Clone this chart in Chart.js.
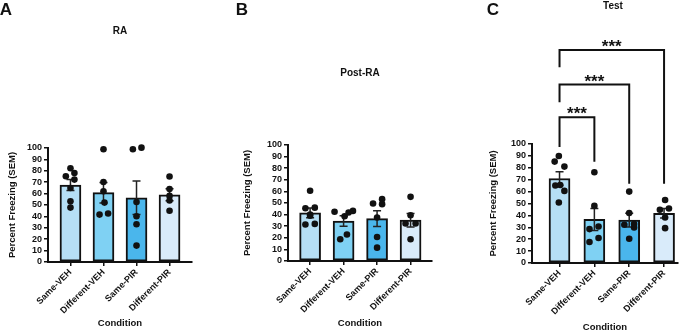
<!DOCTYPE html>
<html>
<head>
<meta charset="utf-8">
<script src="https://cdn.jsdelivr.net/npm/chart.js@4.4.1/dist/chart.umd.min.js"></script>
<style>
    body { margin: 0; background: #fff; }
    #wrap { position: relative; width: 690px; height: 336px; font-family: 'Liberation Sans', Arial, sans-serif; font-weight: bold; color: #111; }
    .panel { position: absolute; top: 0; width: 230px; height: 336px; }
    .lbl { position: absolute; transform: translate(-50%, -50%); white-space: nowrap; line-height: 1; }
    .letter { font-size: 17px; }
    .title { font-size: 10px; }
</style>
</head>
<body>
<div id="wrap">
    <div class="panel" style="left:0"><canvas id="chartRA" width="230" height="336"></canvas></div>
    <div class="panel" style="left:230px"><canvas id="chartPostRA" width="230" height="336"></canvas></div>
    <div class="panel" style="left:460px"><canvas id="chartTest" width="230" height="336"></canvas></div>

    <div class="lbl letter" style="left:6px;top:9px">A</div>
    <div class="lbl letter" style="left:242px;top:9px">B</div>
    <div class="lbl letter" style="left:493px;top:9px">C</div>
    <div class="lbl title" style="left:120px;top:31px">RA</div>
    <div class="lbl title" style="left:360px;top:73px">Post-RA</div>
    <div class="lbl title" style="left:613px;top:6px">Test</div>
</div>

<script>
const conditions = ['Same-VEH', 'Different-VEH', 'Same-PIR', 'Different-PIR'];
const barColors = ['#b6dff5', '#7fd1f3', '#4ab6ec', '#d9ebfa'];

// RA
const raMeans = [67.5, 60.8, 56.3, 59.0];
const raSem = [4.8, 9.0, 14.7, 5.3];
const raPoints = [
    [82.2, 75.2, 78.1, 72.3, 64.9, 53.2, 47.7],
    [98.9, 70.2, 62.0, 52.1, 41.6, 42.5],
    [98.9, 100.3, 52.6, 40.1, 33.1, 14.4],
    [75.0, 64.0, 58.0, 54.0, 45.0]
];
const raJitter = [
    [0, -0.14, 0.12, 0.12, 0, 0, 0],
    [0, 0, 0, 0.03, -0.12, 0.14],
    [-0.11, 0.15, 0, 0, 0, 0],
    [0, 0, 0, 0, 0]
];

// Post-RA
const postMeans = [41.5, 34.5, 36.5, 35.2];
const postSem = [4.2, 4.6, 6.8, 5.8];
const postPoints = [
    [60.5, 45.5, 46.0, 40.0, 39.0, 31.5, 32.0],
    [42.4, 38.6, 41.8, 43.2, 18.7, 22.8],
    [49.6, 53.3, 49.0, 37.5, 20.7, 11.5],
    [55.3, 39.5, 32.3, 32.3, 18.7]
];
const postJitter = [
    [0, -0.14, 0.14, 0, 0, -0.14, 0.14],
    [-0.27, 0.03, 0.15, 0.28, -0.1, 0.1],
    [-0.12, 0.15, 0.15, 0, 0, 0],
    [0, 0, -0.15, 0.15, 0]
];

// Test
const testMeans = [71.0, 36.6, 36.1, 41.8];
const testSem = [5.6, 9.3, 5.8, 4.0];
const testPoints = [
    [89.9, 85.2, 81.0, 65.1, 65.6, 60.6, 50.8],
    [76.3, 48.0, 28.5, 30.7, 17.6, 21.0],
    [60.0, 42.0, 32.1, 32.7, 29.8, 20.4],
    [53.0, 44.7, 45.8, 38.2, 29.3]
];
const testJitter = [
    [-0.02, -0.14, 0.14, -0.12, 0.02, 0.14, -0.02],
    [0, 0, -0.14, 0.12, -0.14, 0.12],
    [0, 0, -0.14, 0.14, 0.14, 0],
    [0.03, -0.12, 0.14, 0.03, 0.03]
];

// significance brackets on Test: from Same-VEH (1) to group index
const bracketTo = [2, 3, 4];
const bracketTop = [122.5, 150, 179];
const bracketLeftEnd = [97.5, 135, 164.5];
const bracketRightEnd = [85, 66.5, 66.5];
const bracketText = ['***', '***', '***'];

const ink = '#111';
const tickFont = { family: "'Liberation Sans', Arial, sans-serif", size: 9, weight: 'bold' };
const titleFont = { family: "'Liberation Sans', Arial, sans-serif", size: 9.5, weight: 'bold' };

const errorBars = {
    id: 'errorBars',
    afterDatasetDraw(chart, args) {
        const ds = chart.data.datasets[args.index];
        if (!ds.sem) return;
        const { ctx, scales: { x, y } } = chart;
        ctx.save();
        ctx.strokeStyle = '#222';
        ctx.lineWidth = 1.5;
        ds.data.forEach((d, i) => {
            const xc = x.getPixelForValue(d.x);
            const top = y.getPixelForValue(d.y + ds.sem[i]);
            const bot = y.getPixelForValue(d.y - ds.sem[i]);
            ctx.beginPath();
            ctx.moveTo(xc, top);
            ctx.lineTo(xc, bot);
            ctx.moveTo(xc - 4, top);
            ctx.lineTo(xc + 4, top);
            ctx.moveTo(xc - 4, bot);
            ctx.lineTo(xc + 4, bot);
            ctx.stroke();
        });
        ctx.restore();
    }
};

const brackets = {
    id: 'brackets',
    afterDraw(chart) {
        if (chart.canvas.id !== 'chartTest') return;
        const { ctx, scales: { x, y } } = chart;
        ctx.save();
        ctx.strokeStyle = ink;
        ctx.fillStyle = ink;
        ctx.lineWidth = 2;
        ctx.font = "bold 17px 'Liberation Sans', Arial, sans-serif";
        ctx.textAlign = 'center';
        ctx.textBaseline = 'alphabetic';
        bracketTo.forEach((to, i) => {
            const x1 = x.getPixelForValue(1);
            const x2 = x.getPixelForValue(to);
            const yt = y.getPixelForValue(bracketTop[i]);
            ctx.beginPath();
            ctx.moveTo(x1, y.getPixelForValue(bracketLeftEnd[i]));
            ctx.lineTo(x1, yt);
            ctx.lineTo(x2, yt);
            ctx.lineTo(x2, y.getPixelForValue(bracketRightEnd[i]));
            ctx.stroke();
            ctx.fillText(bracketText[i], (x1 + x2) / 2, yt + 2);
        });
        ctx.restore();
    }
};

function buildChart(canvasId, means, sem, points, jitter, layout) {
    const scatterData = points.flatMap((vals, i) =>
        vals.map((v, j) => ({ x: i + 1 + jitter[i][j], y: v })));
    const barData = means.map((m, i) => ({ x: i + 1, y: m }));

    return new Chart(document.getElementById(canvasId), {
        type: 'bar',
        data: {
            datasets: [
                {
                    type: 'scatter',
                    data: scatterData,
                    pointRadius: 3.3,
                    pointBackgroundColor: ink,
                    pointBorderWidth: 0,
                    clip: false,
                    order: 0
                },
                {
                    type: 'bar',
                    data: barData,
                    sem: sem,
                    backgroundColor: barColors,
                    borderColor: ink,
                    borderWidth: 2,
                    borderSkipped: false,
                    barThickness: 21,
                    order: 1
                }
            ]
        },
        options: {
            responsive: false,
            animation: false,
            layout: { padding: layout.padding },
            plugins: {
                legend: { display: false },
                tooltip: { enabled: false }
            },
            scales: {
                x: {
                    type: 'linear',
                    offset: false,
                    min: layout.xMin,
                    max: layout.xMax,
                    afterBuildTicks: scale => {
                        scale.ticks = conditions.map((c, i) => ({ value: i + 1 }));
                    },
                    afterFit: scale => {
                        scale.height = layout.xHeight;
                        scale.paddingLeft = 0;
                        scale.paddingRight = 0;
                    },
                    ticks: {
                        autoSkip: false,
                        maxRotation: 45,
                        minRotation: 45,
                        padding: 1,
                        color: ink,
                        font: tickFont,
                        callback: (value, index) => conditions[index]
                    },
                    grid: { offset: false, drawOnChartArea: false, tickLength: 4, color: ink, lineWidth: 1.5 },
                    border: { color: ink, width: 2 },
                    title: {
                        display: true,
                        text: 'Condition',
                        color: ink,
                        font: titleFont,
                        padding: { top: 4, bottom: layout.titleBottom }
                    }
                },
                y: {
                    min: 0,
                    max: 100,
                    afterFit: scale => { scale.width = layout.yWidth; },
                    ticks: { stepSize: 10, autoSkip: false, padding: 2, color: ink, font: tickFont },
                    grid: { drawOnChartArea: false, tickLength: 4, color: ink, lineWidth: 1.5 },
                    border: { color: ink, width: 2 },
                    title: {
                        display: true,
                        text: 'Percent Freezing (SEM)',
                        color: ink,
                        font: titleFont,
                        padding: { top: 4, bottom: 4 }
                    }
                }
            }
        },
        plugins: [errorBars, brackets]
    });
}

buildChart('chartRA', raMeans, raSem, raPoints, raJitter, {
    padding: { left: 3, top: 148, right: 38, bottom: 0 },
    yWidth: 45, xHeight: 74, xMin: 0.32, xMax: 4.68, titleBottom: 7
});
buildChart('chartPostRA', postMeans, postSem, postPoints, postJitter, {
    padding: { left: 8, top: 145, right: 28, bottom: 0 },
    yWidth: 50, xHeight: 75, xMin: 0.34, xMax: 4.64, titleBottom: 7
});
buildChart('chartTest', testMeans, testSem, testPoints, testJitter, {
    padding: { left: 24, top: 144, right: 12, bottom: 0 },
    yWidth: 48, xHeight: 73, xMin: 0.21, xMax: 4.40, titleBottom: 3
});
</script>
</body>
</html>
